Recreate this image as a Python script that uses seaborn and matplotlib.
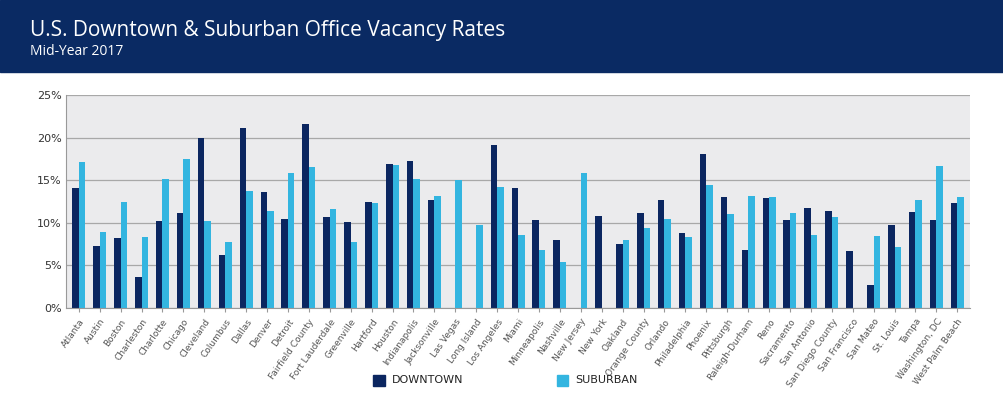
import numpy as np
import pandas as pd
import matplotlib
matplotlib.use("Agg")
import matplotlib.pyplot as plt
import seaborn as sns
from matplotlib.patches import Rectangle
from matplotlib.ticker import PercentFormatter

# Datos
ciudades = ["Atlanta", "Austin", "Boston", "Charleston", "Charlotte", "Chicago", "Cleveland",
            "Columbus", "Dallas", "Denver", "Detroit", "Fairfield County", "Fort Lauderdale",
            "Greenville", "Hartford", "Houston", "Indianapolis", "Jacksonville", "Las Vegas",
            "Long Island", "Los Angeles", "Miami", "Minneapolis", "Nashville", "New Jersey",
            "New York", "Oakland", "Orange County", "Orlando", "Philadelphia", "Phoenix",
            "Pittsburgh", "Raleigh-Durham", "Reno", "Sacramento", "San Antonio",
            "San Diego County", "San Francisco", "San Mateo", "St. Louis", "Tampa",
            "Washington, DC", "West Palm Beach"]
downtown = [14.1, 7.3, 8.2, 3.7, 10.2, 11.2, 19.9, 6.2, 21.1, 13.6, 10.5, 21.6, 10.7, 10.1,
            12.5, 16.9, 17.2, 12.7, 0, 0, 19.1, 14.1, 10.3, 8.0, 0, 10.8, 7.5, 11.2, 12.7,
            8.8, 18.1, 13.0, 6.8, 12.9, 10.3, 11.7, 11.4, 6.7, 2.7, 9.7, 11.3, 10.3, 12.3]
suburban = [17.1, 8.9, 12.4, 8.3, 15.2, 17.5, 10.2, 7.7, 13.7, 11.4, 15.8, 16.5, 11.6, 7.7,
            12.3, 16.8, 15.1, 13.1, 15.0, 9.7, 14.2, 8.6, 6.8, 5.4, 15.9, 0, 8.0, 9.4, 10.4,
            8.3, 14.4, 11.0, 13.2, 13.0, 11.2, 8.6, 10.7, 0, 8.5, 7.2, 12.7, 16.7, 13.0]

df = pd.DataFrame({"ciudad": ciudades * 2,
                   "tasa": downtown + suburban,
                   "tipo": ["DOWNTOWN"] * len(ciudades) + ["SUBURBAN"] * len(ciudades)})

NAVY = "#0b2660"
CYAN = "#33b5e0"

fig = plt.figure(figsize=(10.04, 4.13), dpi=100)
fig.patches.append(Rectangle((0, 0.825), 1, 0.175, transform=fig.transFigure,
                             color="#0a2a63", zorder=0))
fig.text(0.03, 0.925, "U.S. Downtown & Suburban Office Vacancy Rates", color="white",
         fontsize=15, va="center", family="Open Sans")
fig.text(0.03, 0.875, "Mid-Year 2017", color="white", fontsize=10, va="center",
         family="Open Sans")

ax = fig.add_axes([0.066, 0.254, 0.90, 0.516])
ax.set_facecolor("#ebebed")
sns.barplot(data=df, x="ciudad", y="tasa", hue="tipo", palette=[NAVY, CYAN],
            width=0.62, gap=0.0, saturation=1, ax=ax, legend=False)
ax.set_ylim(0, 25)
ax.set_yticks([0, 5, 10, 15, 20, 25])
ax.yaxis.set_major_formatter(PercentFormatter(decimals=0))
ax.grid(axis="y", color="#a8a8a8", linewidth=0.9)
ax.set_axisbelow(True)
ax.set_xlim(-0.6, len(ciudades) - 0.4)
for s in ["top", "right"]:
    ax.spines[s].set_visible(False)
ax.spines["left"].set_color("#999999")
ax.spines["bottom"].set_color("#999999")
ax.tick_params(axis="y", length=0, labelsize=8, colors="#333333")
ax.tick_params(axis="x", length=3, color="#999999", labelsize=6.5, colors="#555555")
ax.set_xticks(range(len(ciudades)))
ax.set_xticklabels(ciudades, rotation=55, ha="right", rotation_mode="anchor")
ax.set_xlabel("")
ax.set_ylabel("")

# Leyenda manual abajo
fig.patches.append(Rectangle((0.372, 0.066), 0.011, 0.026, transform=fig.transFigure, color=NAVY))
fig.text(0.39, 0.079, "DOWNTOWN", fontsize=8, va="center", color="#222222")
fig.patches.append(Rectangle((0.555, 0.066), 0.011, 0.026, transform=fig.transFigure, color=CYAN))
fig.text(0.573, 0.079, "SUBURBAN", fontsize=8, va="center", color="#222222")

fig.savefig("out.png", dpi=100)
